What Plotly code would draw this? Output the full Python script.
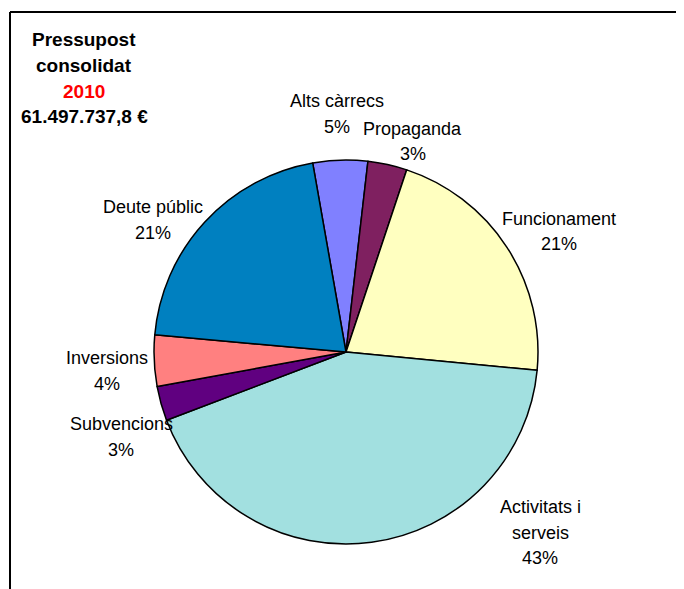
import plotly.graph_objects as go

W, H = 684, 589
OFF = 8  # page body margin applied by the browser

# ---- data ----
categories = ["Alts càrrecs", "Propaganda", "Funcionament", "Activitats i serveis",
              "Subvencions", "Inversions", "Deute públic"]
shares = [4.6, 3.3, 21.4, 42.7, 2.9, 4.3, 20.8]
colors = ["#8080FF", "#7F2060", "#FFFFC0", "#A2E0E0", "#600080", "#FF8080", "#0080C0"]
title_lines = ["Pressupost", "consolidat", "2010", "61.497.737,8 €"]
title_colors = ["black", "black", "#FF0000", "black"]

# label name wrapping and label anchor (pixel centre of first line)
label_lines = {
    "Activitats i serveis": ["Activitats i", "serveis"],
}
label_pos = {
    "Alts càrrecs": (337, 101),
    "Propaganda": (413, 129),
    "Funcionament": (559, 219),
    "Activitats i serveis": (540, 507),
    "Subvencions": (121, 424),
    "Inversions": (107, 358),
    "Deute públic": (153, 207),
}

cx, cy, r = 346, 352, 192

def px(x):
    return (x - OFF) / W

def py(y):
    return 1 - (y - OFF) / H

fig = go.Figure(go.Pie(
    labels=categories,
    values=shares,
    sort=False,
    direction="clockwise",
    rotation=-10,
    marker=dict(colors=colors, line=dict(color="black", width=1.5)),
    textinfo="none",
    hoverinfo="label+percent",
    domain=dict(x=[px(cx - r), px(cx + r)], y=[py(cy + r), py(cy - r)]),
))

annotations = []
LINE = 25.5
total = sum(shares)
for cat, v in zip(categories, shares):
    lines = label_lines.get(cat, [cat]) + [f"{round(100 * v / total)}%"]
    x0, y0 = label_pos[cat]
    for i, t in enumerate(lines):
        annotations.append(dict(
            x=px(x0), y=py(y0 + i * LINE), xref="paper", yref="paper",
            text=t, showarrow=False, xanchor="center", yanchor="middle",
            font=dict(family="Liberation Sans, Arial, sans-serif", size=18, color="black"),
        ))

for i, (t, c) in enumerate(zip(title_lines, title_colors)):
    annotations.append(dict(
        x=px(84), y=py(40 + i * LINE), xref="paper", yref="paper",
        text=f"<b>{t}</b>", showarrow=False, xanchor="center", yanchor="middle",
        font=dict(family="Liberation Sans, Arial, sans-serif", size=19, color=c),
    ))

shapes = [
    dict(type="line", xref="paper", yref="paper", x0=px(10), x1=px(10), y0=-0.05, y1=py(12),
         line=dict(color="black", width=2)),
    dict(type="line", xref="paper", yref="paper", x0=px(10), x1=1.05, y0=py(12), y1=py(12),
         line=dict(color="black", width=2)),
]

fig.update_layout(
    width=W, height=H,
    margin=dict(l=0, r=0, t=0, b=0),
    paper_bgcolor="white", plot_bgcolor="white",
    showlegend=False,
    annotations=annotations,
    shapes=shapes,
)

fig.write_html("out.html")
